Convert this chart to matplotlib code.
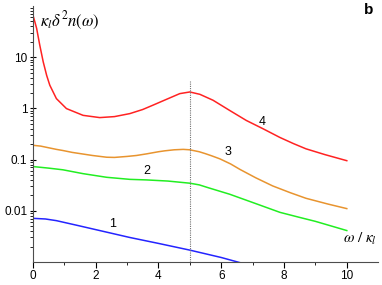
import matplotlib
matplotlib.use("Agg")
import matplotlib.pyplot as plt
from matplotlib.ticker import FixedLocator, LogLocator, NullFormatter

plt.rcParams['font.family'] = ['Liberation Sans', 'DejaVu Sans']
plt.rcParams['mathtext.fontset'] = 'stix'

# curve 4 (red)
x4 = [0, 0.06, 0.12, 0.22, 0.33, 0.44, 0.54, 0.75, 1.07, 1.6, 2.13, 2.6, 3.09,
      3.5, 3.82, 4.2, 4.68, 5.0, 5.32, 5.74, 6.27, 6.8, 7.33, 7.87, 8.3, 8.7,
      9.3, 10]
y4 = [67, 50, 36.6, 17.2, 8.1, 4.4, 2.83, 1.55, 0.99, 0.73, 0.66, 0.69, 0.79,
      0.95, 1.15, 1.45, 1.94, 2.09, 1.88, 1.44, 0.91, 0.58, 0.40, 0.27, 0.205,
      0.162, 0.125, 0.095]
# curve 3 (orange)
x3 = [0, 0.25, 0.5, 0.75, 0.96, 1.25, 1.6, 1.9, 2.35, 2.6, 3.0, 3.3, 3.62, 4.0,
      4.2, 4.5, 4.79, 5.0, 5.3, 5.5, 5.7, 5.96, 6.3, 6.6, 7.1, 7.64, 8.2, 8.7,
      9.4, 10]
y3 = [0.19, 0.183, 0.17, 0.158, 0.15, 0.138, 0.128, 0.12, 0.111, 0.11, 0.115,
      0.12, 0.129, 0.142, 0.148, 0.155, 0.158, 0.155, 0.142, 0.13, 0.118, 0.103,
      0.082, 0.064, 0.044, 0.0305, 0.0225, 0.0175, 0.0135, 0.011]
# curve 2 (green)
x2 = [0, 0.5, 0.96, 1.6, 2.35, 3.09, 3.62, 4.3, 5.0, 5.3, 5.6, 6.27, 7.0, 7.87,
      8.5, 9.0, 10]
y2 = [0.073, 0.068, 0.063, 0.053, 0.045, 0.041, 0.040, 0.038, 0.0345, 0.032,
      0.028, 0.021, 0.0145, 0.0093, 0.0074, 0.0062, 0.0041]
# curve 1 (blue)
x1 = [0, 0.4, 0.75, 1.4, 2.13, 3.09, 4.0, 5.0, 6.0, 6.7, 7.0]
y1 = [0.0071, 0.0069, 0.0064, 0.0052, 0.0041, 0.0030, 0.0023, 0.0017, 0.00122,
      0.00093, 0.00082]

labels = ['1', '2', '3', '4']
label_x = [2.55, 3.62, 6.22, 7.32]
label_y = [0.0056, 0.059, 0.139, 0.53]

fig = plt.figure(figsize=(3.82, 2.85), dpi=100)
ax = fig.add_axes([0.086, 0.081, 0.904, 0.898])

ax.plot(x1, y1, color='#2424ff', lw=1.1)
ax.plot(x2, y2, color='#22ee22', lw=1.1)
ax.plot(x3, y3, color='#e8942f', lw=1.1)
ax.plot(x4, y4, color='#ff2222', lw=1.1)
ax.plot([5, 5], [0.001, 3.4], color='0.45', lw=0.8, ls=(0, (1, 1)))

for t, lx, ly in zip(labels, label_x, label_y):
    ax.text(lx, ly, t, fontsize=9, ha='center', va='center')

ax.set_yscale('log')
ax.set_xlim(0, 11)
ax.set_ylim(0.001, 100)

ax.xaxis.set_major_locator(FixedLocator([0, 2, 4, 6, 8, 10]))
ax.xaxis.set_minor_locator(FixedLocator([1, 3, 5, 7, 9]))
ax.yaxis.set_major_locator(FixedLocator([0.01, 0.1, 1, 10]))
ax.yaxis.set_major_formatter(plt.FixedFormatter(['0.01', '0.1', '1', '10']))
ax.yaxis.set_minor_locator(LogLocator(base=10, subs=range(2, 10)))
ax.yaxis.set_minor_formatter(NullFormatter())

ax.tick_params(axis='both', labelsize=8.5, width=0.8, length=4, pad=2)
ax.tick_params(axis='x', direction='out')
ax.tick_params(axis='y', direction='inout')
ax.tick_params(which='minor', length=2.5, width=0.6)
for s in ['top', 'right']:
    ax.spines[s].set_visible(False)
for s in ['left', 'bottom']:
    ax.spines[s].set_linewidth(0.8)
    ax.spines[s].set_color('0.3')

ax.text(0.02, 0.985, r'$\kappa_l\delta^2 n(\omega)$', transform=ax.transAxes,
        fontsize=12, ha='left', va='top')
ax.text(0.995, 0.09, r'$\omega\ /\ \kappa_l$', transform=ax.transAxes,
        fontsize=11, ha='right', va='center')
fig.text(0.965, 0.965, 'b', fontsize=11, fontweight='bold', ha='center', va='center')

fig.savefig('out.png', dpi=100)
